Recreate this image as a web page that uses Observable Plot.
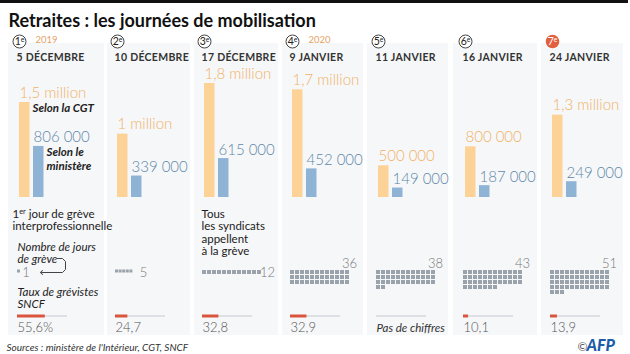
<!DOCTYPE html>
<html><head><meta charset="utf-8">
<script src="https://cdn.jsdelivr.net/npm/d3@7"></script>
<script src="https://cdn.jsdelivr.net/npm/@observablehq/plot@0.6"></script>
<style>
body{margin:0;background:#fff;}
#chart{position:relative;width:630px;height:354px;overflow:hidden;background:#fff;}
#chart svg{position:absolute;left:0;top:0;}
g[aria-description="date"] text{letter-spacing:0.3px;}
</style></head><body><div id="chart"></div>
<script>
// ---------- data ----------
const title = "Retraites : les journées de mobilisation";
const source = "Sources : ministère de l'Intérieur, CGT, SNCF";
const dates = ["5 DÉCEMBRE","10 DÉCEMBRE","17 DÉCEMBRE","9 JANVIER","11 JANVIER","16 JANVIER","24 JANVIER"];
const ordinals = [1,2,3,4,5,6,7];
const years = ["2019","","","2020","","",""];
const cgt = [1500000,1000000,1800000,1700000,500000,800000,1300000];
const ministere = [806000,339000,615000,452000,149000,187000,249000];
const strikeDays = [1,5,12,36,38,43,51];
const sncfRate = [55.6,24.7,32.8,32.9,null,10.1,13.9];
const notes = [["1^{er} jour de grève","interprofessionnelle"],[],["Tous","les syndicats","appellent","à la grève"],[],[],[],[]];
const legendCgt = ["Selon la CGT"];
const legendMin = ["Selon le","ministère"];
const legendDays = ["Nombre de jours","de grève"];
const legendRate = ["Taux de grévistes","SNCF"];
const noData = "Pas de chiffres";

// ---------- layout / style ----------
const W = 630, H = 354;
const FONT = "Lato, 'Open Sans', sans-serif";
const panelX0 = [8,107,194,282,367,453,541];
const panelX1 = [104,190,278,363,448,537,623];
const cx = [17,115,202,290,376,463,550];
const pitch = [3.6,3.6,5,5,5,5,5];
const cell = [3,3,4,4,4,4,4];
const ORANGE = "#fdd296", ORANGE_T = "#f1b266", BLUE = "#8fb3d4", BLUE_T = "#5f88a7";
const cols = d3.range(7).map(i => ({i, date: dates[i], n: ordinals[i], year: years[i]}));

function frenchNum(v){
  return v >= 1e6 ? String(v/1e6).replace(".", ",") + " million" : d3.format(",")(v).replace(/,/g, " ");
}
function rateLabel(r, i){ return d3.format(".1f")(r).replace(".", ",") + (i === 0 ? "%" : ""); }

function supers(svg){
  d3.select(svg).selectAll("text").each(function(){
    const el = this, t = el.textContent;
    if (!t.includes("^{")) return;
    const parts = t.split(/\^\{([^}]*)\}/);
    while (el.firstChild) el.removeChild(el.firstChild);
    let raised = false;
    parts.forEach((p, k) => {
      if (!p) return;
      const ts = document.createElementNS("http://www.w3.org/2000/svg", "tspan");
      ts.textContent = p;
      if (k % 2 === 1) { ts.setAttribute("font-size", "65%"); ts.setAttribute("dy", "-0.5em"); raised = true; }
      else if (raised) { ts.setAttribute("dy", "0.33em"); raised = false; }
      el.appendChild(ts);
    });
  });
  return svg;
}

const pix = {domain:[0,W], range:[0,W], axis:null};
const piy = {domain:[0,H], range:[0,H], axis:null};
const baseOpts = {width:W, height:H, margin:0, style:{background:"transparent", fontFamily:FONT, overflow:"visible"}};

function lines(arr, x, y0, step, opts){
  return Plot.text(arr.map((t, k) => ({t, y: y0 + k*step})), {x, y:"y", text:"t", textAnchor:"start", lineAnchor:"bottom", ...opts});
}

// waffle cells
const cells = [];
strikeDays.forEach((n, i) => {
  const p = pitch[i], s = cell[i], top = i < 2 ? 269.5 : 270;
  for (let j = 0; j < n; j++) {
    const x1 = cx[i] + (j % 12) * p, y1 = top + Math.floor(j / 12) * p;
    cells.push({x1, x2: x1 + s, y1, y2: y1 + s});
  }
});
const dayLabels = strikeDays.map((n, i) => n <= 12
  ? {t: String(n), x: cx[i] + n*pitch[i] + (i === 1 ? 10 : 5), y: 276, a: "start"}
  : {t: String(n), x: cx[i] + 12*pitch[i] - 1, y: 267, a: "end"});

const arrowPts = [{x:57,y:258},{x:62,y:258},{x:65,y:261},{x:65,y:269},{x:62,y:272},{x:41,y:272}];

const layout = Plot.plot({...baseOpts, x: pix, y: piy, marks: [
  Plot.rect([0], {x1:0, x2:628, y1:0, y2:3, fill:"#111"}),
  Plot.text([title], {x:8, y:26, text:d=>d, textAnchor:"start", lineAnchor:"bottom", fontSize:18, fontWeight:700, fill:"#111"}),
  Plot.rect(cols, {x1:d=>panelX0[d.i], x2:d=>panelX1[d.i], y1:43, y2:335, fill:"#f6f7f9"}),
  Plot.dot(cols.filter(d => d.i < 6), {x:d=>cx[d.i]+2, y:41, r:6.5, fill:"white", stroke:"#444", strokeWidth:1}),
  Plot.dot(cols.filter(d => d.i === 6), {x:d=>cx[d.i]+2, y:41, r:6.8, fill:"#e2603f"}),
  Plot.text(cols, {x:d=>cx[d.i]+2, y:41.5, text:d=>d.n + "^{e}", fontSize:10.5, fill:d=>d.i===6 ? "white" : "#222", lineAnchor:"middle"}),
  Plot.text(cols.filter(d => d.year), {x:d=>cx[d.i]+18, y:42, text:"year", textAnchor:"start", lineAnchor:"bottom", fontSize:9.5, fill:"#e6a265"}),
  Plot.text(cols, {x:d=>cx[d.i]-1, y:60, text:"date", textAnchor:"start", lineAnchor:"bottom", fontSize:10.5, fontWeight:700, fill:"#333", ariaDescription:"date"}),
  lines(legendCgt, 32, 111, 13, {fontSize:11.5, fontWeight:700, fontStyle:"italic", fill:"#222"}),
  lines(legendMin, 46, 155, 14, {fontSize:11.5, fontWeight:700, fontStyle:"italic", fill:"#222"}),
  ...notes.map((arr, i) => lines(arr, i === 0 ? 12 : cx[i] - 1, 217, 12.6, {fontSize:11.5, fill:"#222"})),
  lines(legendDays, 17, 250, 12, {fontSize:11.5, fontStyle:"italic", fill:"#222"}),
  Plot.line(arrowPts, {x:"x", y:"y", stroke:"#444", strokeWidth:1, markerEnd:"arrow"}),
  lines(legendRate, 17, 295, 12, {fontSize:11.5, fontStyle:"italic", fill:"#222"}),
  Plot.rect(cells, {x1:"x1", x2:"x2", y1:"y1", y2:"y2", fill:"#9aa3ab"}),
  Plot.text(dayLabels, {x:"x", y:"y", text:"t", textAnchor:d=>d.a, lineAnchor:"bottom", fontSize:13, fontWeight:300, fill:"#777"}),
  Plot.text(cols.filter(d => sncfRate[d.i] != null), {x:d=>cx[d.i], y:331, text:d=>rateLabel(sncfRate[d.i], d.i), textAnchor:"start", lineAnchor:"bottom", fontSize:13, fontWeight:300, fill:"#555"}),
  Plot.text(cols.filter(d => sncfRate[d.i] == null), {x:d=>cx[d.i], y:331, text:()=>noData, textAnchor:"start", lineAnchor:"bottom", fontSize:11.5, fontStyle:"italic", fontWeight:400, fill:"#333"}),
  Plot.text([source], {x:6, y:350, text:d=>d, textAnchor:"start", lineAnchor:"bottom", fontSize:10, fontStyle:"italic", fill:"#333"}),
  Plot.text(["©"], {x:577, y:350, text:d=>d, textAnchor:"start", lineAnchor:"bottom", fontSize:12, fill:"#555"}),
  Plot.text(["AFP"], {x:586, y:350, text:d=>d, textAnchor:"start", lineAnchor:"bottom", fontSize:16, fontWeight:900, fontStyle:"italic", fill:"#1b5ca8"})
]});
supers(layout);

// bars layer: y is the number of demonstrators
const cgtRows = cgt.map((v, i) => ({i, v, x: cx[i] + 2}));
const minRows = ministere.map((v, i) => ({i, v, x: cx[i] + 16}));
const bars = Plot.plot({...baseOpts, x: pix, y: {domain:[0,1800000], range:[197,83], axis:null}, marks: [
  Plot.rect(cgtRows, {x1:"x", x2:d=>d.x + 10.5, y1:0, y2:"v", fill:ORANGE}),
  Plot.rect(minRows, {x1:"x", x2:d=>d.x + 10.5, y1:0, y2:"v", fill:BLUE}),
  Plot.text(cgtRows, {x:"x", y:"v", dy:-5, text:d=>frenchNum(d.v), textAnchor:"start", lineAnchor:"bottom", fontSize:15, fontWeight:300, fill:ORANGE_T}),
  Plot.text(minRows, {x:"x", y:"v", dy:-4, text:d=>frenchNum(d.v), textAnchor:"start", lineAnchor:"bottom", fontSize:15, fontWeight:300, fill:BLUE_T})
]});

// SNCF rate layer: x is the strike rate in %
const rates = Plot.plot({...baseOpts, x: {domain:[0,100], range:[0,50], axis:null}, y: piy, marks: [
  ...cols.map(d => Plot.rect([{r: 100}], {x1:0, x2:"r", y1:315, y2:317, fill:"#dde1e5", dx: cx[d.i]})),
  ...cols.filter(d => sncfRate[d.i] != null).map(d => Plot.rect([{r: sncfRate[d.i]}], {x1:0, x2:"r", y1:314.5, y2:317.5, fill:"#d9553d", dx: cx[d.i]}))
]});

document.getElementById("chart").append(layout, bars, rates);
</script></body></html>
